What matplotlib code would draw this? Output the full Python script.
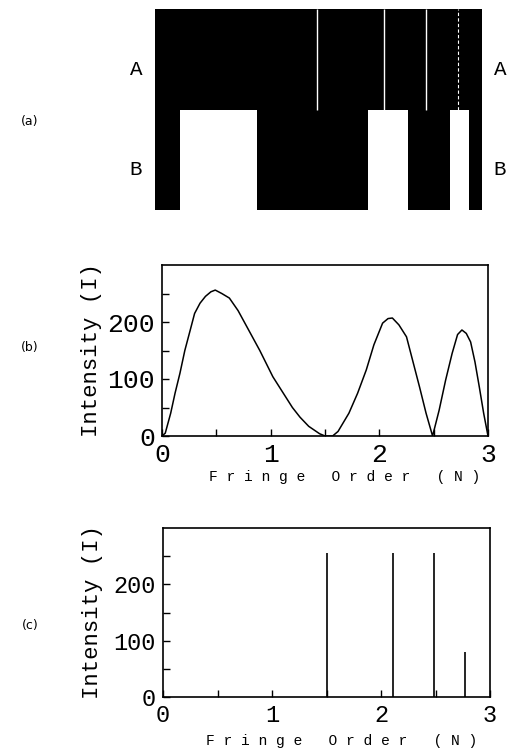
import numpy as np
import matplotlib.pyplot as plt

# (a) fringe image: white lines in row A, white bands in row B (fringe order N)
a_lines = [1.49, 2.10, 2.49, 2.78]
b_white = [(0.23, 0.94), (1.95, 2.32), (2.71, 2.88)]

# (b) intensity along the fringe pattern
n_b = [0.0, 0.03, 0.08, 0.12, 0.165, 0.21, 0.26, 0.30, 0.35, 0.40, 0.45, 0.49,
       0.55, 0.62, 0.70, 0.80, 0.90, 1.02, 1.10, 1.20, 1.27, 1.35, 1.45, 1.50,
       1.57, 1.62, 1.72, 1.80, 1.88, 1.95, 2.03, 2.08, 2.12, 2.18, 2.25, 2.31,
       2.37, 2.43, 2.49, 2.55, 2.61, 2.67, 2.72, 2.76, 2.80, 2.84, 2.88, 2.92,
       2.96, 3.0]
i_b = [0, 5, 40, 75, 110, 150, 186, 215, 233, 245, 253, 256,
       250, 242, 220, 185, 150, 104, 80, 50, 33, 17, 4, 0,
       0, 8, 40, 75, 116, 160, 198, 206, 207, 195, 174, 130,
       86, 40, 0, 45, 98, 145, 178, 186, 180, 165, 130, 86,
       40, 0]

# (c) detected extrema
n_c = [1.50, 2.11, 2.49, 2.77]
i_c = [255, 255, 255, 79]

mono = 'Liberation Mono'
fig = plt.figure(figsize=(5.09, 7.49), dpi=100)

# Крок 1: зображення (a)
ax_a = fig.add_axes([155/509, 1 - 210/749, 327/509, 201/749])
ax_a.axvspan(0, 3, color='black', lw=0)
for lo, hi in b_white:
    ax_a.axvspan(lo, hi, ymin=0, ymax=0.5, color='white', lw=0)
for x in a_lines[:3]:
    ax_a.vlines(x, 1.0, 2.0, color='white', lw=1.0)
ax_a.vlines(a_lines[3], 1.0, 2.0, color='white', lw=0.8, linestyles=(0, (3, 2)))
ax_a.set_xlim(0, 3)
ax_a.set_ylim(0, 2)
ax_a.axis('off')
for xa in (-0.058, 1.055):
    ax_a.text(xa, 0.70, 'A', transform=ax_a.transAxes, ha='center', va='center',
              family=mono, fontsize=15)
    ax_a.text(xa, 0.20, 'B', transform=ax_a.transAxes, ha='center', va='center',
              family=mono, fontsize=15)


def style(ax, fs):
    ax.set_xlim(0, 3)
    ax.set_ylim(0, 300)
    ax.set_xticks([0, 0.5, 1, 1.5, 2, 2.5, 3])
    ax.set_xticklabels(['0', '', '1', '', '2', '', '3'])
    ax.set_yticks([0, 50, 100, 150, 200, 250])
    ax.set_yticklabels(['0', '', '100', '', '200', ''])
    ax.tick_params(direction='in', length=5, width=1, pad=5, labelsize=fs)
    for lab in ax.get_xticklabels() + ax.get_yticklabels():
        lab.set_family(mono)
    for sp in ax.spines.values():
        sp.set_linewidth(1.2)
    ax.set_xlabel(' '.join('Fringe Order (N)'), family=mono, fontsize=10.5)
    ax.set_ylabel('Intensity (I)', family=mono, fontsize=16, va='center')


# Крок 2: профіль інтенсивності (b)
ax_b = fig.add_axes([162/509, 1 - 436/749, 326/509, 171/749])
ax_b.plot(n_b, i_b, color='black', lw=1.1)
style(ax_b, 19)
ax_b.xaxis.set_label_coords(0.56, -0.20)
ax_b.yaxis.set_label_coords(-0.215, 0.5)

# Крок 3: екстремуми (c)
ax_c = fig.add_axes([163/509, 1 - 697/749, 327/509, 169/749])
ax_c.vlines(n_c, 0, i_c, color='black', lw=1.2)
style(ax_c, 17)
ax_c.xaxis.set_label_coords(0.545, -0.22)
ax_c.yaxis.set_label_coords(-0.215, 0.5)

for lbl, yy in (('(a)', 121), ('(b)', 347), ('(c)', 626)):
    fig.text(30/509, 1 - yy/749, lbl, ha='center', va='center', fontsize=9)

fig.savefig('out.png', dpi=100)
